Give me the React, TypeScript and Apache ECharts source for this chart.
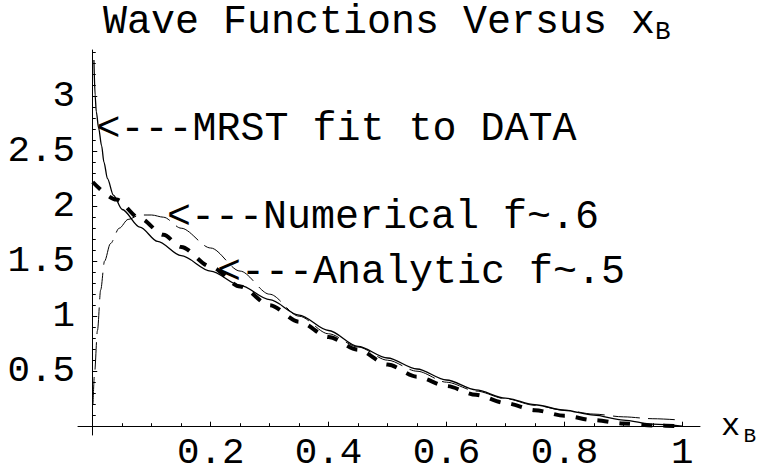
import React, { useEffect, useRef } from "react";
import * as echarts from "echarts";

// ---- data ----
const mrstFit: [number, number][] = [
  [0.002, 3.33], [0.004, 3.01], [0.006, 2.86], [0.010, 2.71], [0.015, 2.55],
  [0.019, 2.40], [0.025, 2.25], [0.035, 2.10], [0.05, 1.97], [0.08, 1.81],
  [0.11, 1.68], [0.15, 1.55], [0.2, 1.41], [0.25, 1.28], [0.3, 1.15],
  [0.35, 1.01], [0.4, 0.87], [0.45, 0.725], [0.5, 0.62], [0.55, 0.52],
  [0.6, 0.42], [0.65, 0.33], [0.7, 0.255], [0.75, 0.195], [0.8, 0.145],
  [0.85, 0.10], [0.9, 0.055], [0.95, 0.018], [1.0, 0.0],
];

const numericalF6: [number, number][] = [
  [0.0005, 0.2], [0.003, 0.48], [0.008, 0.87], [0.0135, 1.24], [0.02, 1.5],
  [0.03, 1.66], [0.045, 1.8], [0.06, 1.88], [0.08, 1.92], [0.1, 1.92],
  [0.12, 1.9], [0.15, 1.8], [0.2, 1.62], [0.25, 1.41], [0.3, 1.2],
  [0.35, 1.0], [0.4, 0.84], [0.45, 0.72], [0.5, 0.6], [0.55, 0.5],
  [0.6, 0.4], [0.65, 0.32], [0.7, 0.25], [0.75, 0.19], [0.8, 0.145],
  [0.85, 0.11], [0.9, 0.085], [0.95, 0.068], [1.0, 0.055],
];

const analyticF5: [number, number][] = [
  [0.0, 2.22], [0.04, 2.06], [0.08, 1.89], [0.12, 1.74], [0.15, 1.63],
  [0.2, 1.45], [0.25, 1.27], [0.3, 1.1], [0.35, 0.95], [0.4, 0.81],
  [0.45, 0.695], [0.5, 0.56], [0.55, 0.45], [0.6, 0.365], [0.65, 0.285],
  [0.7, 0.21], [0.75, 0.145], [0.8, 0.095], [0.85, 0.055], [0.9, 0.025],
  [0.95, 0.007], [1.0, 0.0],
];

const xTickLabels = [0.2, 0.4, 0.6, 0.8, 1];
const yTickLabels = [0.5, 1, 1.5, 2, 2.5, 3];
const xMinorTicks = Array.from({ length: 20 }, (_, i) => Math.round((i + 1) * 5) / 100);
const yMinorTicks = Array.from({ length: 34 }, (_, i) => Math.round(i + 1) / 10);

const titleMain = "Wave Functions Versus x";
const titleSub = "B";
const axisNameMain = "x";
const axisNameSub = "B";
const notes = ["<---MRST fit to DATA", "<---Numerical f~.6", "<---Analytic f~.5"];

const FONT = "'Liberation Mono', 'Courier New', monospace";

function txt(text: string, x: number, y: number, size: number) {
  return {
    type: "text",
    x,
    y,
    silent: true,
    style: {
      text,
      fontSize: size,
      fontFamily: FONT,
      fill: "#000",
      align: "left",
      verticalAlign: "middle",
      textAlign: "left",
      textVerticalAlign: "middle",
    },
  };
}

export default function App() {
  const ref = useRef<HTMLDivElement>(null);

  useEffect(() => {
    if (!ref.current) return;
    const chart = echarts.init(ref.current, null, { renderer: "svg" });

    const axisLineStyle = { color: "#000", width: 1 };
    const labelStyle = { fontFamily: FONT, fontSize: 37.5, color: "#000", lineHeight: 20 };

    const xBase = {
      type: "value",
      min: -0.025,
      max: 1.03,
      position: "bottom",
      splitLine: { show: false },
    };
    const yBase = {
      type: "value",
      min: -0.08,
      max: 3.42,
      position: "left",
      splitLine: { show: false },
    };

    chart.setOption({
      animation: false,
      backgroundColor: "#fff",
      grid: {
        left: 78,
        right: 63,
        top: 50,
        bottom: 30,
        containLabel: false,
        outerBoundsMode: "none",
      },
      xAxis: [
        {
          ...xBase,
          axisLine: { show: true, onZero: true, lineStyle: axisLineStyle },
          axisTick: { show: true, inside: true, length: 4.5, customValues: xTickLabels, lineStyle: axisLineStyle },
          axisLabel: {
            ...labelStyle,
            customValues: xTickLabels,
            margin: 7.5,
            formatter: (v: number) => String(v),
          },
        },
        {
          ...xBase,
          axisLine: { show: false, onZero: true },
          axisTick: { show: true, inside: true, length: 3, customValues: xMinorTicks, lineStyle: axisLineStyle },
          axisLabel: { show: false },
        },
      ],
      yAxis: [
        {
          ...yBase,
          axisLine: { show: true, onZero: true, lineStyle: axisLineStyle },
          axisTick: { show: true, inside: true, length: 4.5, customValues: yTickLabels, lineStyle: axisLineStyle },
          axisLabel: {
            ...labelStyle,
            customValues: yTickLabels,
            margin: 3,
            formatter: (v: number) => String(v),
          },
        },
        {
          ...yBase,
          axisLine: { show: false, onZero: true },
          axisTick: { show: true, inside: true, length: 3, customValues: yMinorTicks, lineStyle: axisLineStyle },
          axisLabel: { show: false },
        },
      ],
      series: [
        {
          name: "Analytic f~.5",
          type: "line",
          data: analyticF5,
          xAxisIndex: 0,
          yAxisIndex: 0,
          showSymbol: false,
          smooth: 0.3,
          smoothMonotone: "x",
          lineStyle: { color: "#000", width: 4, type: [11, 11], cap: "butt" },
          z: 2,
        },
        {
          name: "Numerical f~.6",
          type: "line",
          data: numericalF6,
          xAxisIndex: 0,
          yAxisIndex: 0,
          showSymbol: false,
          smooth: 0.3,
          smoothMonotone: "x",
          lineStyle: { color: "#000", width: 1, type: [27, 8] },
          z: 3,
        },
        {
          name: "MRST fit to DATA",
          type: "line",
          data: mrstFit,
          xAxisIndex: 0,
          yAxisIndex: 0,
          showSymbol: false,
          smooth: 0.3,
          smoothMonotone: "x",
          lineStyle: { color: "#000", width: 1.3, type: "solid" },
          z: 4,
        },
      ],
      graphic: [
        txt(titleMain, 103, 22.5, 40),
        txt(titleSub, 655, 32, 26),
        txt(axisNameMain, 721, 426.5, 32),
        txt(axisNameSub, 743.5, 436.5, 21),
        txt(notes[0], 96.5, 129.3, 40),
        txt(notes[1], 167, 217.6, 40),
        txt(notes[2], 217, 272.6, 40),
      ],
    });

    return () => chart.dispose();
  }, []);

  return (
    <div
      ref={ref}
      style={{ position: "absolute", left: 0, top: 0, width: 763, height: 465, background: "#fff" }}
    />
  );
}
